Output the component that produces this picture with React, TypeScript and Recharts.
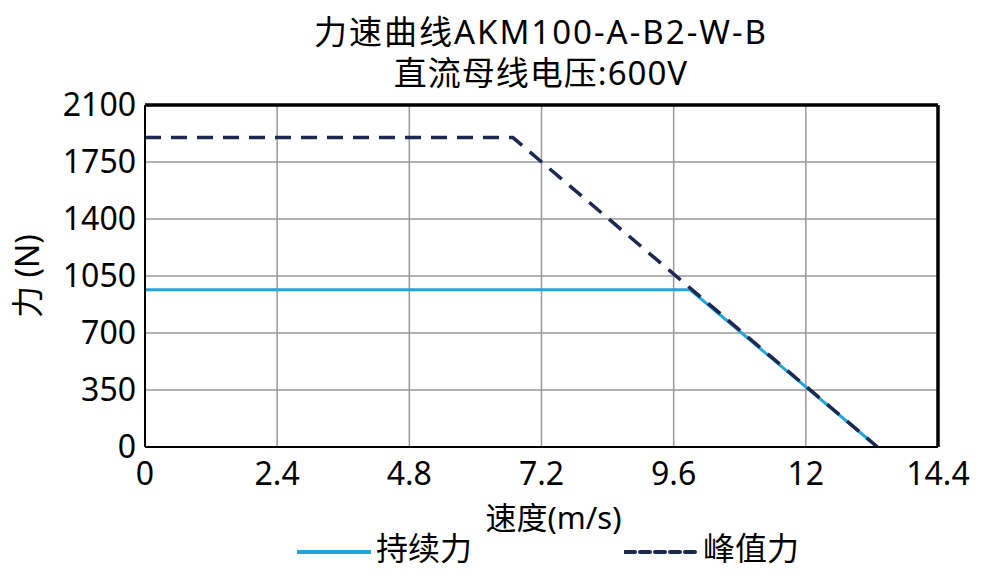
import React from 'react'
import {
  LineChart,
  Line,
  XAxis,
  YAxis,
  CartesianGrid,
  ReferenceLine,
} from 'recharts'

const FONT = '"Noto Sans", "Noto Sans CJK SC", sans-serif'

const titleLines = ['力速曲线AKM100-A-B2-W-B', '直流母线电压:600V']
const xTicks = [0, 2.4, 4.8, 7.2, 9.6, 12, 14.4]
const yTicks = [0, 350, 700, 1050, 1400, 1750, 2100]

// 持续力
const contSpeed = [0, 9.9, 13.3]
const contForce = [965, 965, 0]
// 峰值力
const peakSpeed = [0, 6.68, 13.3]
const peakForce = [1900, 1900, 0]

const contData = contSpeed.map((v, i) => ({ speed: v, force: contForce[i] }))
const peakData = peakSpeed.map((v, i) => ({ speed: v, force: peakForce[i] }))

const series = [
  { name: '持续力', data: contData, color: '#22a4df', dash: undefined, legendDash: undefined },
  { name: '峰值力', data: peakData, color: '#1c2a52', dash: '16 10', legendDash: '10 5' },
]

export default function App() {
  return (
    <div style={{ position: 'absolute', left: 0, top: 0, width: 992, height: 582, background: '#fff', fontFamily: FONT }}>
      <div style={{ position: 'absolute', top: 11, left: 241, width: 600, textAlign: 'center', fontSize: 33, lineHeight: '41px', color: '#000', whiteSpace: 'nowrap' }}>
        <div style={{ letterSpacing: 2 }}>{titleLines[0]}</div>
        <div style={{ letterSpacing: 1 }}>{titleLines[1]}</div>
      </div>

      <LineChart
        width={992}
        height={582}
        margin={{ top: 105, right: 54, left: 0, bottom: 55 }}
        style={{ fontFamily: FONT }}
      >
        <CartesianGrid stroke="#999" strokeWidth={1.5} />
        <XAxis
          dataKey="speed"
          type="number"
          domain={[0, 14.4]}
          ticks={xTicks}
          allowDataOverflow
          height={80}
          tickLine={false}
          tickSize={6}
          tickMargin={9}
          axisLine={{ stroke: '#000', strokeWidth: 2 }}
          tick={{ fontSize: 32, fill: '#000' }}
          label={{ value: '速度(m/s)', position: 'insideBottom', offset: -2, fill: '#000', fontSize: 31, dx: 12 }}
        />
        <YAxis
          type="number"
          domain={[0, 2100]}
          ticks={yTicks}
          width={145}
          tickLine={false}
          tickSize={6}
          tickMargin={3}
          axisLine={{ stroke: '#000', strokeWidth: 2 }}
          tick={{ fontSize: 32, fill: '#000' }}
          label={{ value: '力 (N)', angle: -90, position: 'insideLeft', offset: 28, fill: '#000', fontSize: 32, style: { textAnchor: 'middle' } }}
        />
        <ReferenceLine y={2100} stroke="#000" strokeWidth={3.5} />
        <ReferenceLine x={14.4} stroke="#000" strokeWidth={3.5} />
        {series.map((s) => (
          <Line
            key={s.name}
            data={s.data}
            dataKey="force"
            name={s.name}
            type="linear"
            stroke={s.color}
            strokeWidth={s.dash ? 3.5 : 3}
            strokeDasharray={s.dash}
            dot={false}
            activeDot={false}
            isAnimationActive={false}
          />
        ))}
      </LineChart>

      <div style={{ position: 'absolute', top: 528, left: 0, width: 992, height: 40 }}>
        {series.map((s, i) => (
          <div
            key={s.name}
            style={{ position: 'absolute', left: i === 0 ? 297 : 624, top: 0, display: 'flex', alignItems: 'center', height: 40 }}
          >
            <svg width={74} height={12} style={{ marginTop: 8 }}>
              <line x1={1} y1={6} x2={73} y2={6} stroke={s.color} strokeWidth={4} strokeLinecap="round" strokeDasharray={s.legendDash} />
            </svg>
            <span style={{ fontSize: 32, marginLeft: 5, color: '#000', lineHeight: '40px' }}>{s.name}</span>
          </div>
        ))}
      </div>
    </div>
  )
}
